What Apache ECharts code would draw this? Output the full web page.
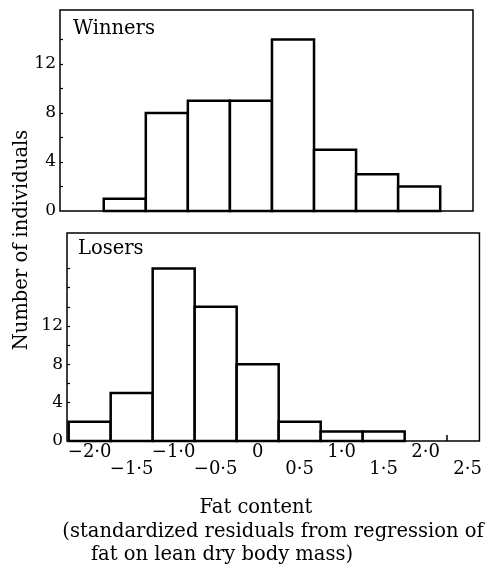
<!DOCTYPE html>
<html>
<head>
<meta charset="utf-8">
<script src="https://cdn.jsdelivr.net/npm/echarts@6/dist/echarts.min.js"></script>
<style>
	html, body { margin: 0; padding: 0; background: #fff; }
	#chart { width: 485px; height: 570px; }
</style>
</head>
<body>
<div id="chart"></div>
<script>
// bin centres (fat content), bin width 0.5
const winnerBins = [ -1.5, -1.0, -0.5, 0, 0.5, 1.0, 1.5, 2.0 ]
const winnerCounts = [ 1, 8, 9, 9, 14, 5, 3, 2 ]

const loserBins = [ -2.0, -1.5, -1.0, -0.5, 0, 0.5, 1.0, 1.5 ]
const loserCounts = [ 2, 5, 18, 14, 8, 2, 1, 1 ]

// x labels are staggered over two rows
const xLabelsUpper = [ -2.0, -1.0, 0, 1.0, 2.0 ]
const xLabelsLower = [ -1.5, -0.5, 0.5, 1.5, 2.5 ]
const xTickValues = [ 2.25 ]
const yLabelValues = [ 0, 4, 8, 12 ]
const winnerYTicks = [ 2, 4, 6, 8, 10, 12, 14 ]
const loserYTicks = [ 2, 4, 6, 8, 10, 12, 14, 16, 18 ]

const binWidth = 0.5
const font = 'DejaVu Serif'
const textFont = '19.5px "DejaVu Serif"'

const fmtNum = (v) => {
	if (v === 0) return '0'
	return v.toFixed(1).replace('.', '·').replace('-', '−')
}

const toData = (bins, counts) => bins.map((b, i) => [ b, counts[i] ])

const renderBar = (params, api) => {
	const x = api.value(0)
	const y = api.value(1)
	const p0 = api.coord([ x - binWidth / 2, y ])
	const p1 = api.coord([ x + binWidth / 2, 0 ])
	return {
		type: 'rect',
		shape: { x: p0[0], y: p0[1], width: p1[0] - p0[0], height: p1[1] - p0[1] },
		style: { fill: '#fff', stroke: '#000', lineWidth: 2.5 }
	}
}

const xAxisBase = {
	type: 'value',
	min: -2.27,
	max: 2.64,
	position: 'bottom',
	splitLine: { show: false },
	axisLine: { show: false, onZero: false }
}

const xLabelStyle = {
	color: '#000',
	fontFamily: font,
	fontSize: 18,
	showMinLabel: true,
	showMaxLabel: true,
	hideOverlap: false,
	formatter: fmtNum
}

const yAxisBase = {
	type: 'value',
	min: 0,
	splitLine: { show: false },
	axisLine: { show: false, onZero: false },
	axisLabel: {
		customValues: yLabelValues,
		color: '#000',
		fontFamily: font,
		fontSize: 17,
		margin: 4,
		showMinLabel: true,
		hideOverlap: false
	}
}

const options = {
	animation: false,
	grid: [
		{ left: 60, top: 10, width: 413, height: 201, show: true, borderColor: '#000', borderWidth: 1.5 },
		{ left: 67, top: 233, width: 414, height: 208, show: true, borderColor: '#000', borderWidth: 1.5 }
	],
	xAxis: [
		{ ...xAxisBase, gridIndex: 0, axisLabel: { show: false }, axisTick: { show: false } },
		{
			...xAxisBase,
			gridIndex: 1,
			axisTick: { customValues: xTickValues, inside: true, length: 6, lineStyle: { color: '#000', width: 1.5 } },
			axisLabel: { ...xLabelStyle, customValues: xLabelsUpper, margin: 2 }
		},
		{
			...xAxisBase,
			gridIndex: 1,
			offset: 0,
			axisTick: { show: false },
			axisLabel: { ...xLabelStyle, customValues: xLabelsLower, margin: 19 }
		}
	],
	yAxis: [
		{
			...yAxisBase,
			gridIndex: 0,
			max: 16.4,
			axisTick: { customValues: winnerYTicks, inside: true, length: 3, lineStyle: { color: '#000', width: 1.2 } }
		},
		{
			...yAxisBase,
			gridIndex: 1,
			max: 21.7,
			axisTick: { customValues: loserYTicks, inside: true, length: 3, lineStyle: { color: '#000', width: 1.2 } }
		}
	],
	series: [
		{ type: 'custom', xAxisIndex: 0, yAxisIndex: 0, data: toData(winnerBins, winnerCounts), renderItem: renderBar },
		{ type: 'custom', xAxisIndex: 1, yAxisIndex: 1, data: toData(loserBins, loserCounts), renderItem: renderBar }
	],
	graphic: [
		// panel titles
		{ type: 'text', left: 73, top: 19, style: { text: 'Winners', font: textFont, fill: '#000' } },
		{ type: 'text', left: 78, top: 239, style: { text: 'Losers', font: textFont, fill: '#000' } },
		// y axis title
		{
			type: 'text',
			x: 22,
			y: 240,
			rotation: Math.PI / 2,
			style: { text: 'Number of individuals', font: textFont, fill: '#000', align: 'center', verticalAlign: 'middle' }
		},
		// x axis title
		{ type: 'text', x: 256, y: 508, style: { text: 'Fat content', font: textFont, fill: '#000', align: 'center', verticalAlign: 'middle' } },
		{ type: 'text', x: 273, y: 532, style: { text: '(standardized residuals from regression of', font: textFont, fill: '#000', align: 'center', verticalAlign: 'middle' } },
		{ type: 'text', x: 222, y: 555, style: { text: 'fat on lean dry body mass)', font: textFont, fill: '#000', align: 'center', verticalAlign: 'middle' } }
	]
}

echarts.init(document.getElementById('chart')).setOption(options)
</script>
</body>
</html>
